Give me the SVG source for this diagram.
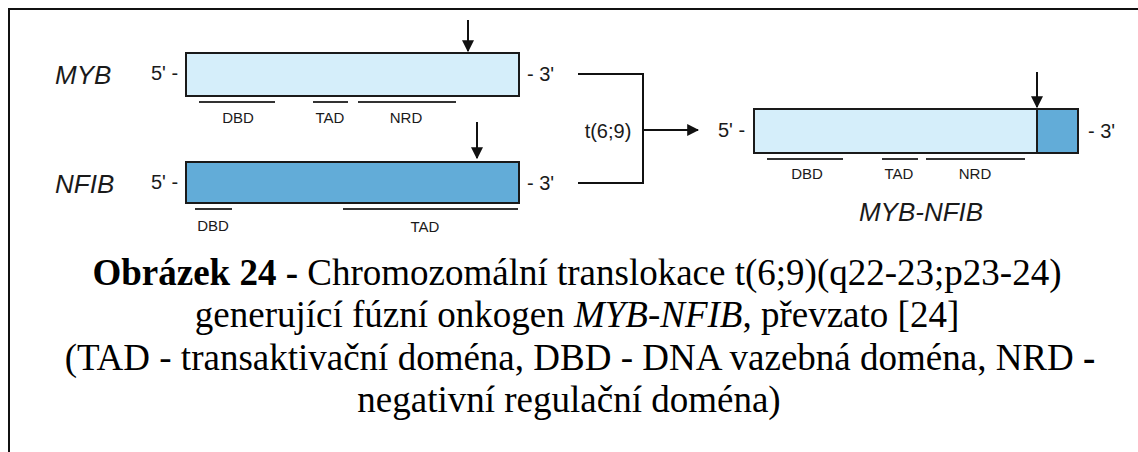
<svg xmlns="http://www.w3.org/2000/svg" width="1138" height="452" viewBox="0 0 1138 452">
<style>
.lbl{font-family:"Liberation Sans",Arial,sans-serif;fill:#1a1a1a}
.gene{font-size:26px;font-style:italic}
.end{font-size:20px}
.dom{font-size:15px;text-anchor:middle}
.dl{stroke:#333;stroke-width:2.2;fill:none}
.box{stroke:#1a1a1a;stroke-width:2}
.light{fill:#d5eefa}
.dark{fill:#62acd8}
.cap{font-family:"Liberation Serif","Times New Roman",serif;font-size:37px;fill:#000;text-anchor:middle}
.conn{stroke:#111;stroke-width:2;fill:none}
</style>
<defs>
<marker id="ah" viewBox="0 0 10 10" refX="9" refY="5" markerWidth="6" markerHeight="6" orient="auto" markerUnits="strokeWidth">
<path d="M0,0 L10,5 L0,10 z" fill="#111"/>
</marker>
</defs>
<rect width="1138" height="452" fill="#fff"/>
<path d="M9,452 V9 H1138" stroke="#111" stroke-width="2" fill="none"/>

<g id="myb">
<text class="lbl gene" x="55" y="84">MYB</text>
<text class="lbl end" x="151" y="80">5' -</text>
<rect class="box light" x="186" y="53" width="333" height="43"/>
<text class="lbl end" x="527" y="81">- 3'</text>
<line class="dl" x1="199" y1="102" x2="275" y2="102"/>
<line class="dl" x1="313" y1="102" x2="348" y2="102"/>
<line class="dl" x1="358" y1="102" x2="456" y2="102"/>
<text class="lbl dom" x="238" y="123">DBD</text>
<text class="lbl dom" x="330" y="123">TAD</text>
<text class="lbl dom" x="406" y="123">NRD</text>
</g>

<g id="nfib">
<text class="lbl gene" x="55" y="193">NFIB</text>
<text class="lbl end" x="151" y="189">5' -</text>
<rect class="box dark" x="186" y="162" width="333" height="41"/>
<text class="lbl end" x="527" y="190">- 3'</text>
<line class="dl" x1="195" y1="209" x2="232" y2="209"/>
<line class="dl" x1="343" y1="209" x2="518" y2="209"/>
<text class="lbl dom" x="213" y="231">DBD</text>
<text class="lbl dom" x="425" y="232">TAD</text>
</g>

<g id="fusion">
<text class="lbl end" x="718" y="137">5' -</text>
<rect class="light" x="754" y="109" width="283" height="44"/>
<rect class="dark" x="1037" y="109" width="41" height="44"/>
<rect class="box" fill="none" x="754" y="109" width="324" height="44"/>
<line class="box" x1="1037" y1="109" x2="1037" y2="153"/>
<text class="lbl end" x="1088" y="138">- 3'</text>
<line class="dl" x1="767" y1="159" x2="843" y2="159"/>
<line class="dl" x1="882" y1="159" x2="918" y2="159"/>
<line class="dl" x1="926" y1="159" x2="1025" y2="159"/>
<text class="lbl dom" x="807" y="179">DBD</text>
<text class="lbl dom" x="899" y="179">TAD</text>
<text class="lbl dom" x="975" y="179">NRD</text>
<text class="lbl gene" x="921" y="221" text-anchor="middle">MYB-NFIB</text>
</g>

<g id="connectors">
<line class="conn" x1="468" y1="20" x2="468" y2="51" marker-end="url(#ah)"/>
<line class="conn" x1="477" y1="122" x2="477" y2="158" marker-end="url(#ah)"/>
<line class="conn" x1="1037" y1="72" x2="1037" y2="107" marker-end="url(#ah)"/>
<path class="conn" d="M578,74 H643 V183 H578"/>
<line class="conn" x1="643" y1="130" x2="698" y2="130" marker-end="url(#ah)"/>
<text class="lbl end" x="608" y="138" text-anchor="middle">t(6;9)</text>
</g>

<g id="caption">
<text class="cap" x="577" y="285"><tspan font-weight="bold">Obrázek 24 -</tspan> Chromozomální translokace t(6;9)(q22-23;p23-24)</text>
<text class="cap" x="577" y="327">generující fúzní onkogen <tspan font-style="italic">MYB-NFIB</tspan>, převzato [24]</text>
<text class="cap" x="580" y="370">(TAD - transaktivační doména, DBD - DNA vazebná doména, NRD <tspan font-weight="bold">-</tspan></text>
<text class="cap" x="569" y="412">negativní regulační doména)</text>
</g>
</svg>
